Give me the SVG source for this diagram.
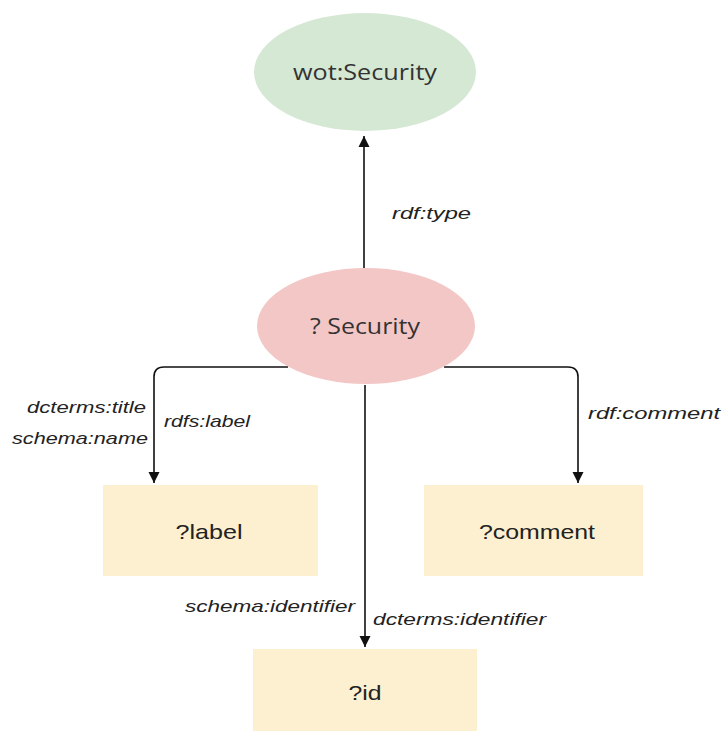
<svg xmlns="http://www.w3.org/2000/svg" width="724" height="731" viewBox="0 0 724 731">
<style>
.lbl{font-family:"Liberation Sans",Arial,sans-serif;font-style:italic;font-size:17px;fill:#222}
.nt{font-family:"Open Sans","Liberation Sans",sans-serif;font-size:22px;fill:#333;text-anchor:middle}
.bt{font-family:"Liberation Sans",Arial,sans-serif;font-size:21px;fill:#222;text-anchor:middle}
.box{fill:#fcf0d0}
.edge{fill:none;stroke:#111;stroke-width:1.6}
</style>
<defs>
<marker id="ah" viewBox="0 0 10 10" refX="10" refY="5" markerWidth="7" markerHeight="7" orient="auto" markerUnits="strokeWidth">
<path d="M0,0 L10,5 L0,10 z" fill="#111"/>
</marker>
</defs>
<rect width="724" height="731" fill="#fff"/>
<g id="connectors">
<line class="edge" x1="364" y1="268" x2="364" y2="136" marker-end="url(#ah)"/>
<path class="edge" d="M288,367 H164 Q154,367 154,377 V483" marker-end="url(#ah)"/>
<path class="edge" d="M444,367 H568 Q578,367 578,377 V483" marker-end="url(#ah)"/>
<line class="edge" x1="365" y1="385" x2="365" y2="647" marker-end="url(#ah)"/>
<text class="lbl" x="392" y="219" textLength="79" lengthAdjust="spacingAndGlyphs">rdf:type</text>
<text class="lbl" x="27" y="413" textLength="119" lengthAdjust="spacingAndGlyphs">dcterms:title</text>
<text class="lbl" x="12" y="444" textLength="136" lengthAdjust="spacingAndGlyphs">schema:name</text>
<text class="lbl" x="164" y="427" textLength="86" lengthAdjust="spacingAndGlyphs">rdfs:label</text>
<text class="lbl" x="588" y="419" textLength="132" lengthAdjust="spacingAndGlyphs">rdf:comment</text>
<text class="lbl" x="185" y="612" textLength="170" lengthAdjust="spacingAndGlyphs">schema:identifier</text>
<text class="lbl" x="373" y="625" textLength="173" lengthAdjust="spacingAndGlyphs">dcterms:identifier</text>
</g>
<g id="wotSecurity">
<ellipse cx="365" cy="72" rx="111" ry="59" fill="#d5e8d4"/>
<text class="nt" x="365" y="80" textLength="144" lengthAdjust="spacingAndGlyphs">wot:Security</text>
</g>
<g id="security">
<ellipse cx="366" cy="326" rx="109" ry="58" fill="#f4c7c7"/>
<text class="nt" x="365" y="334" textLength="110" lengthAdjust="spacingAndGlyphs">? Security</text>
</g>
<g id="label">
<rect class="box" x="103" y="485" width="215" height="91"/>
<text class="bt" x="209" y="539" textLength="67" lengthAdjust="spacingAndGlyphs">?label</text>
</g>
<g id="comment">
<rect class="box" x="424" y="485" width="219" height="91"/>
<text class="bt" x="537" y="539" textLength="116" lengthAdjust="spacingAndGlyphs">?comment</text>
</g>
<g id="id">
<rect class="box" x="253" y="649" width="224" height="90"/>
<text class="bt" x="365" y="700" textLength="33" lengthAdjust="spacingAndGlyphs">?id</text>
</g>
</svg>
